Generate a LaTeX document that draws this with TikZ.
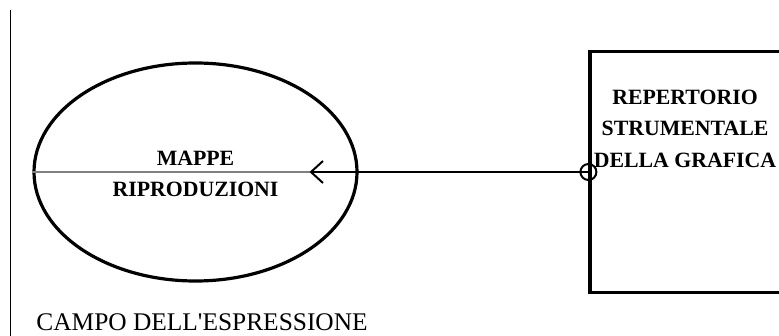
\documentclass[tikz,border=0pt]{standalone}
\usepackage{fontspec}
\setmainfont{Liberation Serif}
\usetikzlibrary{arrows.meta,shapes.geometric}

\begin{document}
\begin{tikzpicture}[x=0.5pt, y=-0.5pt, >={Straight Barb[length=6pt,width=11pt]},
		label/.style={font=\bfseries\fontsize{10.9}{15.8}\selectfont, align=center, inner sep=0pt}]
		\useasboundingbox (0,0) rectangle (779,336);
		\clip (0,0) rectangle (779,336);
		% boundary of the field
		\draw[line width=0.5pt] (10.5,10) -- (10.5,336);
		% field of the expression
		\node[draw, ellipse, line width=1.6pt, inner sep=0pt, minimum width=161.5pt, minimum height=109pt] (mappe) at (195.5,172) {};
		\node[label] (mappetext) at (195.5,174) {MAPPE\\RIPRODUZIONI};
		% instrumental repertoire, cut by the right edge
		\node[draw, rectangle, line width=1.6pt, inner sep=0pt, minimum width=115pt, minimum height=120.3pt] (rep) at (705,172) {};
		\node[label] (reptext) at (685,128.5) {REPERTORIO\\STRUMENTALE\\DELLA GRAFICA};
		% connector with open circle at the box
		\coordinate (tip) at (309.5,172);
		\draw[gray, line width=0.75pt] (mappe.west) -- (tip);
		\draw[->, line width=1pt] (rep.west) -- (tip);
		\node[draw, circle, line width=1pt, inner sep=0pt, minimum size=8pt] (knot) at (rep.west) {};
		\node[anchor=base west, inner sep=0pt, font=\fontsize{12.7}{14}\selectfont] (campo) at (36,330) {CAMPO DELL\textquotesingle ESPRESSIONE};
	\end{tikzpicture}
\end{document}
